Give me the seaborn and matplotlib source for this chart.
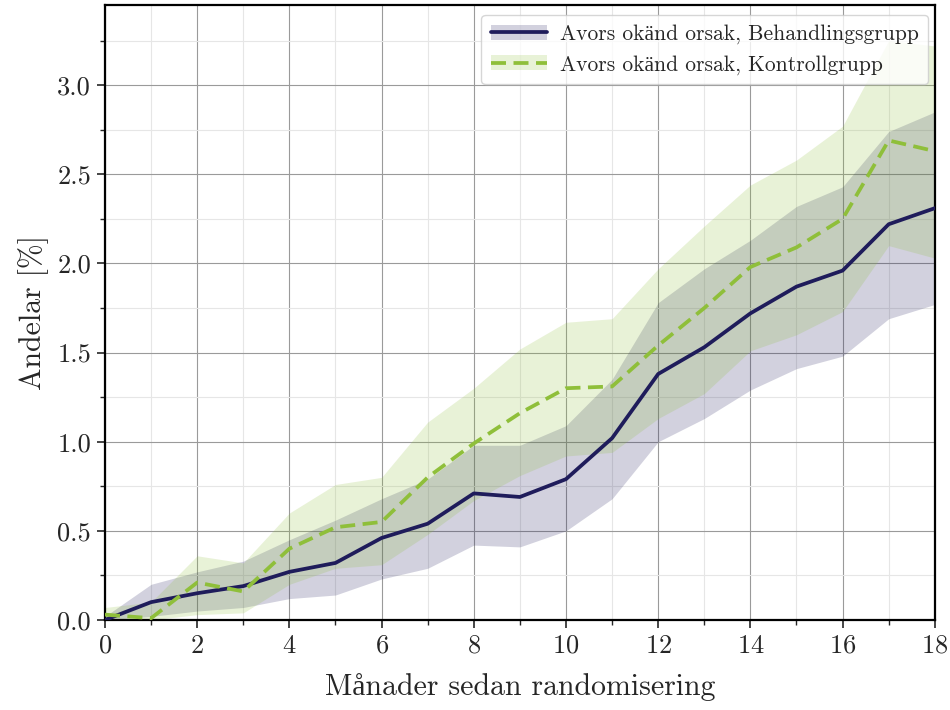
import matplotlib
matplotlib.use("Agg")
import matplotlib.pyplot as plt
import seaborn as sns
import pandas as pd
import numpy as np
from matplotlib.patches import Patch
from matplotlib.lines import Line2D
from matplotlib.ticker import MultipleLocator

# Data
months = list(range(19))
behandling = [0.00, 0.10, 0.15, 0.19, 0.27, 0.32, 0.46, 0.54, 0.71, 0.69, 0.79, 1.02, 1.38, 1.53, 1.72, 1.87, 1.96, 2.22, 2.31]
behandling_low = [0.00, 0.02, 0.05, 0.07, 0.12, 0.14, 0.23, 0.29, 0.42, 0.41, 0.50, 0.68, 1.00, 1.13, 1.29, 1.41, 1.48, 1.69, 1.77]
behandling_high = [0.02, 0.20, 0.27, 0.33, 0.45, 0.56, 0.68, 0.79, 0.98, 0.98, 1.09, 1.35, 1.78, 1.97, 2.13, 2.32, 2.43, 2.74, 2.85]
kontroll = [0.03, 0.01, 0.21, 0.16, 0.40, 0.52, 0.55, 0.80, 0.99, 1.16, 1.30, 1.31, 1.54, 1.75, 1.98, 2.09, 2.25, 2.69, 2.63]
kontroll_low = [0.00, 0.00, 0.03, 0.04, 0.20, 0.29, 0.31, 0.48, 0.67, 0.81, 0.92, 0.94, 1.13, 1.27, 1.51, 1.60, 1.73, 2.10, 2.03]
kontroll_high = [0.07, 0.10, 0.36, 0.32, 0.60, 0.76, 0.80, 1.11, 1.30, 1.52, 1.67, 1.69, 1.97, 2.21, 2.44, 2.58, 2.77, 3.25, 3.22]

label_b = "Avors okänd orsak, Behandlingsgrupp"
label_k = "Avors okänd orsak, Kontrollgrupp"
xlabel = "Månader sedan randomisering"
ylabel = "Andelar [%]"

navy = "#1f1c5b"
green = "#8fbf3a"

sns.set_style("white")
plt.rcParams['font.family'] = ['cmr10', 'Liberation Serif']
plt.rcParams['axes.formatter.use_mathtext'] = True

df = pd.DataFrame({
    "month": months * 2,
    "value": behandling + kontroll,
    "group": [label_b] * 19 + [label_k] * 19,
})

fig = plt.figure(figsize=(9.5, 7.1), dpi=100)
ax = fig.add_axes([0.1105, 0.1268, 0.8735, 0.8662])

ax.fill_between(months, behandling_low, behandling_high, color=navy, alpha=0.2, linewidth=0, zorder=2)
ax.fill_between(months, kontroll_low, kontroll_high, color=green, alpha=0.2, linewidth=0, zorder=2)

sns.lineplot(data=df, x="month", y="value", hue="group", style="group",
             palette={label_b: navy, label_k: green},
             dashes={label_b: "", label_k: (4, 2)},
             linewidth=2.7, ax=ax, legend=False, zorder=3)

ax.set_xlim(0, 18)
ax.set_ylim(0, 3.45)
ax.xaxis.set_major_locator(MultipleLocator(2))
ax.xaxis.set_minor_locator(MultipleLocator(1))
ax.yaxis.set_minor_locator(MultipleLocator(0.25))
ax.set_yticks(np.arange(0, 3.01, 0.5))
ax.yaxis.set_major_formatter(matplotlib.ticker.FormatStrFormatter('%.1f'))

ax.grid(which="major", color="#9a9a9a", linewidth=0.8, zorder=0)
ax.grid(which="minor", color="#e6e6e6", linewidth=0.8, zorder=0)
ax.set_axisbelow(True)

ax.tick_params(axis="both", which="major", direction="out", length=6, width=1.2,
               labelsize=19, bottom=True, left=True, top=False, right=False, pad=4)
ax.tick_params(axis="both", which="minor", direction="out", length=3.5, width=1.0,
               bottom=True, left=True, top=False, right=False)
for s in ax.spines.values():
    s.set_color("black")
    s.set_linewidth(1.6)
    s.set_visible(True)

ax.set_xlabel(xlabel, fontsize=21.5, labelpad=11)
ax.set_ylabel(ylabel, fontsize=21.5, labelpad=6)

h_b = (Patch(facecolor=navy, alpha=0.2, edgecolor="none"), Line2D([], [], color=navy, lw=2.7))
h_k = (Patch(facecolor=green, alpha=0.2, edgecolor="none"), Line2D([], [], color=green, lw=2.7, ls=(0, (4, 2))))
leg = ax.legend([h_b, h_k], [label_b, label_k], loc="upper right", fontsize=15.5,
                frameon=True, fancybox=True, framealpha=0.8, edgecolor="#cccccc",
                borderaxespad=0.3, handlelength=2.6, handletextpad=0.6,
                borderpad=0.45, labelspacing=0.5, bbox_to_anchor=(1.0, 0.995))

fig.savefig("out.png", dpi=100)
